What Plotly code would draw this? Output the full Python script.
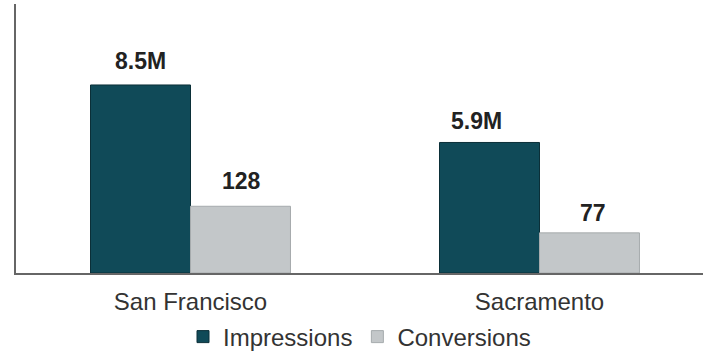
import plotly.graph_objects as go

# Data
cities = ["San Francisco", "Sacramento"]
impressions = [8.5e6, 5.9e6]
conversions = [128, 77]
impression_labels = ["8.5M", "5.9M"]
conversion_labels = ["128", "77"]

TEAL = "#104a58"
GREY = "#c3c7c9"
FONT = "Liberation Sans, Arial, sans-serif"

bar_w = 0.2865  # width of one bar in category units

fig = go.Figure()
fig.add_trace(go.Bar(
    name="Impressions", x=cities, y=impressions, yaxis="y",
    width=bar_w, offset=-bar_w,
    marker=dict(color=TEAL, line=dict(color="#0b2f38", width=1)),
))
fig.add_trace(go.Bar(
    name="Conversions", x=cities, y=conversions, yaxis="y2",
    width=bar_w, offset=0,
    marker=dict(color=GREY, line=dict(color="#a6abad", width=1)),
))

# Value labels above each bar
label_font = dict(family=FONT, size=23, color="#222222")
imp_shift = [(0, 24), (-13, 21)]
conv_shift = [(1, 25), (3, 20)]
for i, city in enumerate(cities):
    fig.add_annotation(
        x=city, y=impressions[i], xref="x", yref="y",
        text=f"<b>{impression_labels[i]}</b>", showarrow=False,
        xshift=-50 + imp_shift[i][0], yshift=imp_shift[i][1],
        yanchor="middle", font=label_font,
    )
    fig.add_annotation(
        x=city, y=conversions[i], xref="x", yref="y2",
        text=f"<b>{conversion_labels[i]}</b>", showarrow=False,
        xshift=50 + conv_shift[i][0], yshift=conv_shift[i][1],
        yanchor="middle", font=label_font,
    )

fig.update_layout(
    width=703, height=354,
    margin=dict(l=16, r=0, t=4, b=81, autoexpand=False),
    paper_bgcolor="white", plot_bgcolor="white",
    barmode="overlay",
    font=dict(family=FONT, size=24, color="#333333"),
    showlegend=True,
    legend=dict(
        orientation="h", x=0.5, xanchor="center", y=-0.238, yanchor="middle",
        font=dict(family=FONT, size=24, color="#333333"),
        itemwidth=30, traceorder="normal",
    ),
    xaxis=dict(
        type="category", categoryorder="array", categoryarray=cities,
        range=[-0.5, 1.4685], automargin=False,
        showline=True, linecolor="#666666", linewidth=1.5,
        showgrid=False, ticks="", ticklabelstandoff=6,
        tickfont=dict(family=FONT, size=24, color="#333333"),
    ),
    yaxis=dict(
        range=[0, 12.16e6], showline=True, linecolor="#666666", linewidth=1.5,
        showgrid=False, zeroline=False, showticklabels=False, ticks="",
        automargin=False,
    ),
    yaxis2=dict(
        range=[0, 516], overlaying="y", visible=False,
        showgrid=False, zeroline=False,
    ),
)

fig.write_html("out.html")
